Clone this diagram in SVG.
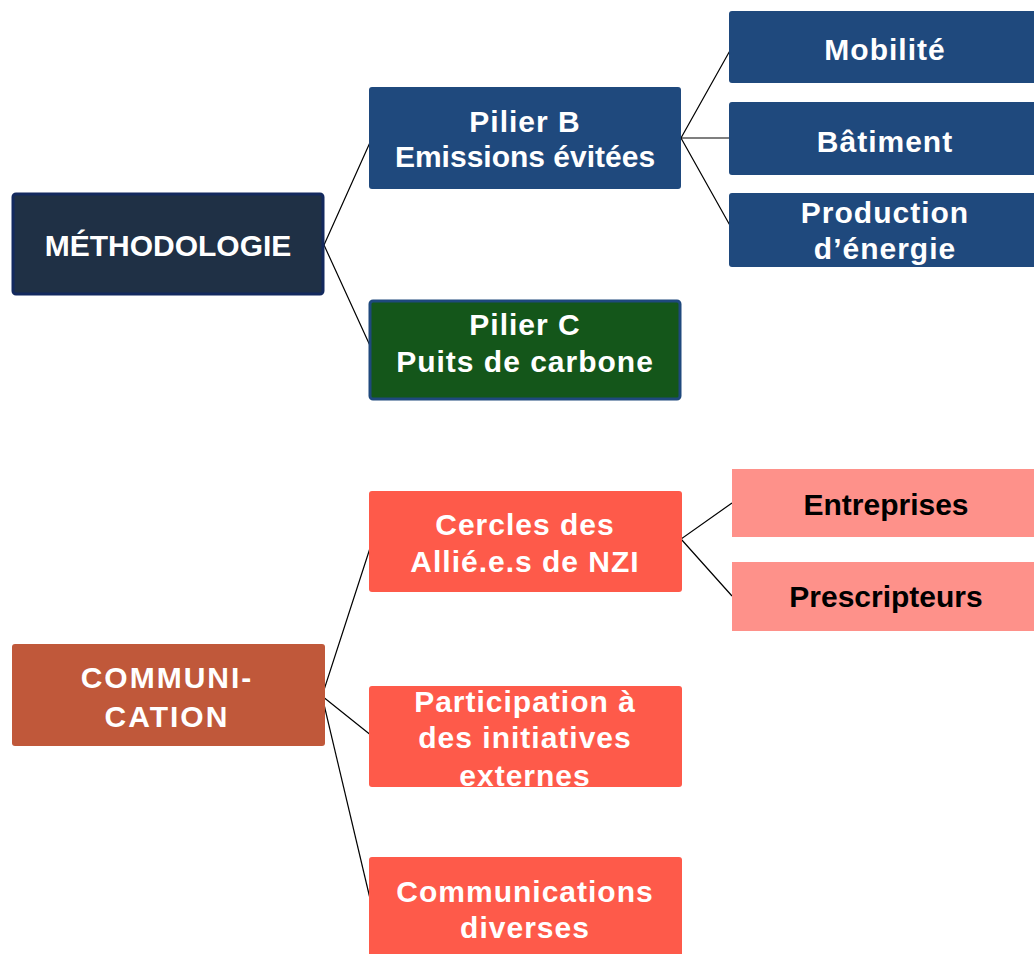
<svg xmlns="http://www.w3.org/2000/svg" width="1034" height="954" viewBox="0 0 1034 954">
<style>
.t{font-family:"Liberation Sans",Arial,sans-serif;font-weight:bold;font-size:30px;fill:#ffffff;text-anchor:middle;letter-spacing:1px}
.k{fill:#000000;letter-spacing:0}
.n{letter-spacing:0}
.blue{fill:#1f497d}
.red{fill:#fe5a4a}
.pink{fill:#fe918a}
.c{stroke:#000;stroke-width:1.2;fill:none}
</style>
<defs>
<clipPath id="clipPart"><rect x="369" y="686" width="313" height="101"/></clipPath>
</defs>
<rect width="1034" height="954" fill="#ffffff"/>
<g id="connectors">
<polyline class="c" points="372,138 324,245 372,350"/>
<polyline class="c" points="732,47 681,138 732,229"/>
<line class="c" x1="681" y1="138" x2="732" y2="138"/>
<polyline class="c" points="732,503 681,539 732,596"/>
<polyline class="c" points="372,542 322,696 372,736"/>
<line class="c" x1="322" y1="696" x2="372" y2="907"/>
</g>
<g id="methodologie">
<rect x="13" y="194" width="310" height="100" rx="3" fill="#1f3045" stroke="#13295e" stroke-width="3"/>
<text class="t n" x="168" y="256">MÉTHODOLOGIE</text>
</g>
<g id="pilierB">
<rect class="blue" x="369" y="87" width="312" height="102" rx="3"/>
<text class="t" x="525" y="132">Pilier B</text>
<text class="t n" x="525" y="167">Emissions évitées</text>
</g>
<g id="pilierC">
<rect x="370" y="301" width="310" height="98" rx="3" fill="#14561a" stroke="#1f497d" stroke-width="3"/>
<text class="t" x="525" y="335">Pilier C</text>
<text class="t" x="525" y="372">Puits de carbone</text>
</g>
<g id="mobilite">
<rect class="blue" x="729" y="11" width="312" height="72" rx="3"/>
<text class="t" x="885" y="60">Mobilité</text>
</g>
<g id="batiment">
<rect class="blue" x="729" y="102" width="312" height="73" rx="3"/>
<text class="t" x="885" y="152">Bâtiment</text>
</g>
<g id="production">
<rect class="blue" x="729" y="193" width="312" height="74" rx="3"/>
<text class="t" x="885" y="223">Production</text>
<text class="t" x="885" y="259">d’énergie</text>
</g>
<g id="communication">
<rect x="12" y="644" width="313" height="102" rx="3" fill="#c0583a"/>
<text class="t" x="167" y="688" style="letter-spacing:2px">COMMUNI-</text>
<text class="t" x="167" y="727" style="letter-spacing:2px">CATION</text>
</g>
<g id="cercles">
<rect class="red" x="369" y="491" width="313" height="101" rx="3"/>
<text class="t" x="525" y="535">Cercles des</text>
<text class="t" x="525" y="572">Allié.e.s de NZI</text>
</g>
<g id="entreprises">
<rect class="pink" x="732" y="469" width="308" height="68"/>
<text class="t k" x="886" y="515">Entreprises</text>
</g>
<g id="prescripteurs">
<rect class="pink" x="732" y="562" width="308" height="69"/>
<text class="t k" x="886" y="607">Prescripteurs</text>
</g>
<g id="participation">
<rect class="red" x="369" y="686" width="313" height="101" rx="3"/>
<g clip-path="url(#clipPart)">
<text class="t" x="525" y="712">Participation à</text>
<text class="t" x="525" y="748">des initiatives</text>
<text class="t" x="525" y="786">externes</text>
</g>
</g>
<g id="communications">
<rect class="red" x="369" y="857" width="313" height="100" rx="3"/>
<text class="t" x="525" y="902">Communications</text>
<text class="t" x="525" y="938">diverses</text>
</g>
</svg>
